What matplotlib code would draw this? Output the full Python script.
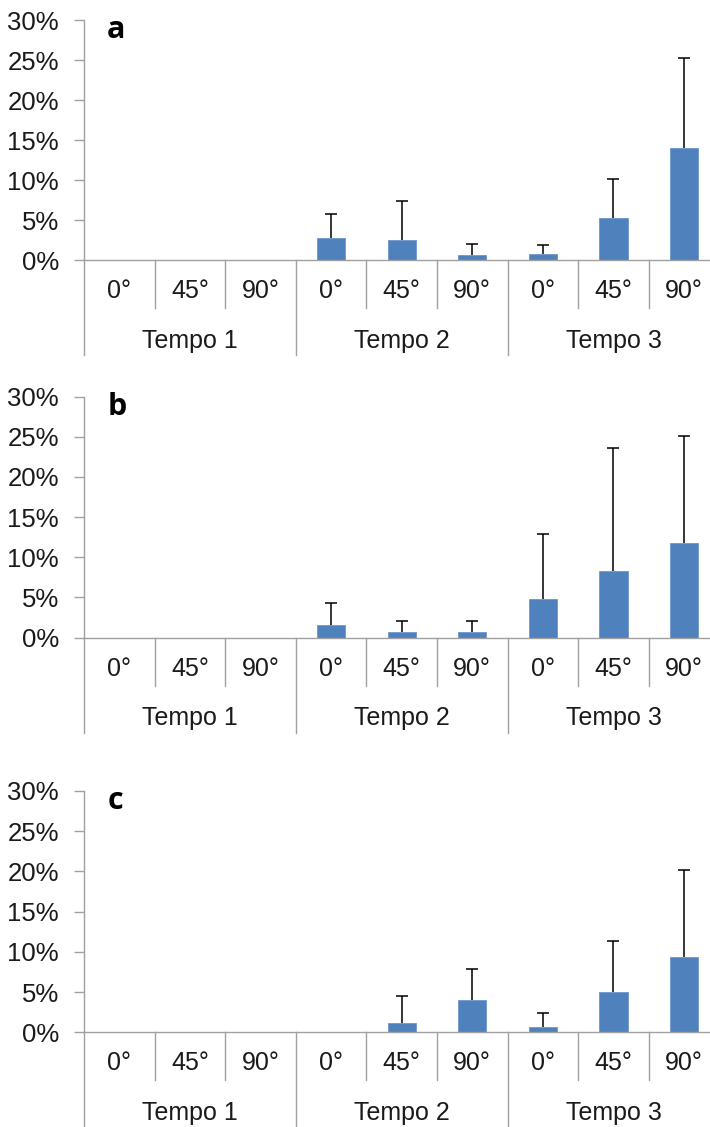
import matplotlib

matplotlib.use("Agg")
import matplotlib.pyplot as plt
from matplotlib.ticker import FuncFormatter, MultipleLocator

# categories: three angles within each of three time points
angles = ["0°", "45°", "90°"] * 3
tempos = ["Tempo 1", "Tempo 2", "Tempo 3"]
panel_names = ["a", "b", "c"]

# mean values (%) and upper limit of the error bar (%), one list per panel
means_a = [0, 0, 0, 2.8, 2.45, 0.65, 0.8, 5.3, 14.0]
upper_a = [0, 0, 0, 5.8, 7.4, 2.0, 1.9, 10.1, 25.2]
means_b = [0, 0, 0, 1.6, 0.65, 0.65, 4.75, 8.3, 11.8]
upper_b = [0, 0, 0, 4.25, 2.05, 2.05, 12.9, 23.6, 25.1]
means_c = [0, 0, 0, 0, 1.2, 4.05, 0.7, 5.0, 9.35]
upper_c = [0, 0, 0, 0, 4.5, 7.9, 2.4, 11.4, 20.2]

BAR_COLOR = "#4f81bd"
AXIS_GRAY = "#a0a0a0"
FONT = "Liberation Sans"

W, H = 710, 1127
fig = plt.figure(figsize=(W / 100, H / 100), dpi=100)

# pixel rows of the 30% top and 0% baseline for each panel
rows = [(20.0, 260.0), (396.7, 637.5), (791.0, 1032.3)]
left_px = 84.0
cat_px = 70.6

panels = [(means_a, upper_a), (means_b, upper_b), (means_c, upper_c)]

for (top_px, base_px), (means, upper), name in zip(rows, panels, panel_names):
    ax = fig.add_axes([left_px / W, 1 - base_px / H, (W - left_px) / W, (base_px - top_px) / H])
    xs = list(range(len(angles)))
    ax.bar(xs, means, width=0.4, color=BAR_COLOR, edgecolor="#6f97cc", linewidth=0.6, zorder=2)
    shown = [i for i in xs if upper[i] > 0]
    _, caps, _ = ax.errorbar(
        [xs[i] for i in shown],
        [means[i] for i in shown],
        yerr=[[0] * len(shown), [upper[i] - means[i] for i in shown]],
        fmt="none",
        ecolor="black",
        elinewidth=1.1,
        capsize=4,
        capthick=1.1,
        zorder=3,
    )
    # only the upper cap is wanted
    caps[0].set_visible(False)

    ax.set_ylim(0, 30)
    ax.set_xlim(-0.5, -0.5 + (W - left_px) / cat_px)
    ax.yaxis.set_major_locator(MultipleLocator(5))
    ax.yaxis.set_major_formatter(FuncFormatter(lambda v, _: f"{v:.0f}%"))
    ax.tick_params(axis="y", length=7, width=1, color=AXIS_GRAY, pad=11, labelsize=18.5,
                   labelcolor="#1a1a1a")
    for lab in ax.get_yticklabels():
        lab.set_fontfamily(FONT)
    ax.set_xticks([])

    for side in ("top", "right"):
        ax.spines[side].set_visible(False)
    for side in ("left", "bottom"):
        ax.spines[side].set_color(AXIS_GRAY)
        ax.spines[side].set_linewidth(1)

    height_px = base_px - top_px
    inner = -48.0 / height_px
    outer = -95.0 / height_px
    trans = ax.get_xaxis_transform()

    # category separators below the baseline
    for i in range(len(angles) + 1):
        xpos = i - 0.5
        low = outer if i % 3 == 0 else inner
        ax.plot([xpos, xpos], [0, low], color=AXIS_GRAY, lw=1, transform=trans, clip_on=False)

    for i, lab in enumerate(angles):
        ax.text(i, -31.0 / height_px, lab, transform=trans, ha="center", va="center",
                fontsize=18, fontfamily=FONT, color="#1a1a1a")
    for g, lab in enumerate(tempos):
        ax.text(3 * g + 1, -81.0 / height_px, lab, transform=trans, ha="center", va="center",
                fontsize=18, fontfamily=FONT, color="#1a1a1a")

    ax.text(0.037, 1.02, name, transform=ax.transAxes, ha="left", va="top",
            fontsize=22, fontweight="bold", fontfamily="Open Sans")

fig.savefig("out.png", dpi=100)
